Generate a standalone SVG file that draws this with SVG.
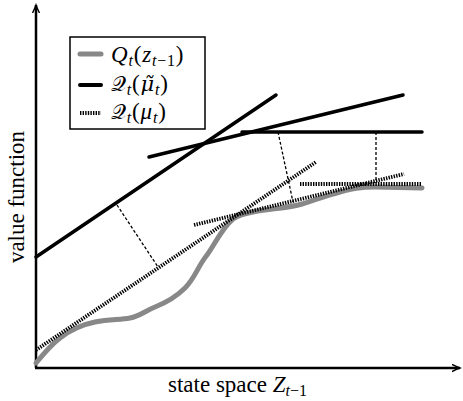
<svg xmlns="http://www.w3.org/2000/svg" width="463" height="401" viewBox="0 0 463 401">
<style>
.ax{stroke:#000;stroke-width:2.5;fill:none}
.blk{stroke:#000;stroke-width:3.5;fill:none;stroke-linecap:round}
.dot{stroke:#000;stroke-width:3.8;fill:none;stroke-dasharray:1.4 1.2}
.gry{stroke:#888;stroke-width:5;fill:none;stroke-linecap:round;stroke-linejoin:round}
.con{stroke:#000;stroke-width:1.3;fill:none;stroke-dasharray:3 2}
.t{font-family:"Liberation Serif","DejaVu Serif",serif;fill:#000}
.lg{font-size:23px;letter-spacing:0.8px}
.sb{font-size:16px;font-style:italic}
</style>
<defs>
<marker id="ar" markerWidth="10" markerHeight="10" refX="8" refY="5" orient="auto" markerUnits="userSpaceOnUse">
<path d="M0,1.5 Q5,4 8,5 Q5,6 0,8.5" fill="none" stroke="#000" stroke-width="1.4"/>
</marker>
</defs>
<g id="axes">
<line class="ax" x1="36" y1="368" x2="36" y2="5" marker-end="url(#ar)"/>
<line class="ax" x1="35" y1="368" x2="460" y2="368" marker-end="url(#ar)"/>
</g>
<g id="curve">
<path class="gry" d="M36,363 C45,352 52,344 60,338 C70,330 80,325 95,322 C110,319 120,320 130,318 C140,316 145,311 155,307 C165,303 175,298 185,288 C195,278 198,266 207,255 C215,244 222,228 233,219 C240,214 250,212 265,210 C280,208 292,207 302,204 C315,200 325,196 340,192 C352,189 360,187 375,187 L422,188"/>
</g>
<g id="connectors">
<line class="blk" x1="36" y1="257" x2="276" y2="95"/>
<line class="blk" x1="149" y1="157" x2="403" y2="95"/>
<line class="blk" x1="242" y1="132" x2="422" y2="132"/>
<line class="dot" x1="36" y1="350" x2="316" y2="162"/>
<line class="dot" x1="194" y1="225" x2="404" y2="174"/>
<line class="dot" x1="300" y1="184" x2="422" y2="184"/>
<line class="con" x1="117" y1="205" x2="158" y2="267"/>
<line class="con" x1="278" y1="132" x2="293" y2="202"/>
<line class="con" x1="376" y1="132" x2="376" y2="183"/>
</g>
<g id="legend">
<rect x="70" y="37" width="135" height="92" fill="#fff" stroke="#000" stroke-width="1.5"/>
<line class="gry" x1="80" y1="54" x2="101" y2="54"/>
<line class="blk" x1="80" y1="85" x2="101" y2="85" style="stroke-width:4"/>
<line class="dot" x1="80" y1="113" x2="101" y2="113"/>
<text class="t lg" x="111" y="62"><tspan font-style="italic">Q</tspan><tspan class="sb" dy="4">t</tspan><tspan dy="-4">(</tspan><tspan font-style="italic">z</tspan><tspan class="sb" dy="4">t</tspan><tspan font-size="16">−1</tspan><tspan dy="-4">)</tspan></text>
<text class="t lg" x="111" y="91"><tspan font-family="DejaVu Sans, serif" font-size="21">𝒬</tspan><tspan class="sb" dy="4">t</tspan><tspan dy="-4">(</tspan><tspan font-style="italic" font-family="DejaVu Serif, serif" font-size="21">μ̃</tspan><tspan class="sb" dy="4">t</tspan><tspan dy="-4">)</tspan></text>
<text class="t lg" x="111" y="119"><tspan font-family="DejaVu Sans, serif" font-size="21">𝒬</tspan><tspan class="sb" dy="4">t</tspan><tspan dy="-4">(</tspan><tspan font-style="italic">μ</tspan><tspan class="sb" dy="4">t</tspan><tspan dy="-4">)</tspan></text>
</g>
<g id="labels">
<text class="t" font-size="23" text-anchor="middle" transform="translate(24,197) rotate(-90)">value function</text>
<text class="t" x="168" y="392" font-size="23">state space <tspan font-style="italic">Z</tspan><tspan font-style="italic" font-size="16" dy="4">t</tspan><tspan font-size="16">−1</tspan></text>
</g>
</svg>
